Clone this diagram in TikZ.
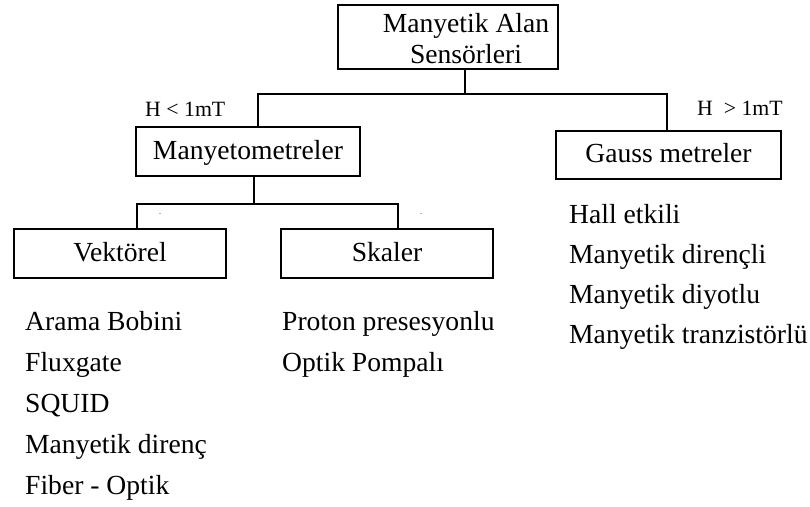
\documentclass[tikz,border=0pt]{standalone}
\usepackage{fontspec}
\setmainfont{Liberation Serif}
\begin{document}
\begin{tikzpicture}[
    x=1pt,
    y=-1pt,
    every node/.style={font=\fontsize{27.6}{31}\selectfont, inner sep=0pt},
    kutu/.style={draw=black, line width=2.2pt, fill=white, text height=19pt, text depth=4pt},
    hat/.style={line width=2.2pt},
    esik/.style={font=\fontsize{21.8}{26}\selectfont, anchor=base west},
    liste/.style={anchor=base west},
    nokta/.style={font=\fontsize{8}{8}\selectfont}
]

\useasboundingbox (0,0) rectangle (810,506);

% Ana kutu:
% metin kutunun ortasından biraz sağa kaymış.
\node[kutu, minimum width=220pt, minimum height=64pt, text height=, text depth=] (sensor) at (448,37) {};
\node[align=center] (sensorYazi) at (466,39) {Manyetik Alan\\Sensörleri};

% Birinci seviye kutular
\node[kutu, minimum width=224pt, minimum height=49pt] (manyetometre) at (248,151.5) {Manyetometreler};
\node[kutu, minimum width=225pt, minimum height=48pt] (gauss) at (668.5,155) {Gauss metreler};

% Eşik değerleri
\node[esik] (altEsik) at (145,116) {H < 1mT};
\node[esik] (ustEsik) at (697,115) {H\ \ > 1mT};

% İkinci seviye kutular
\node[kutu, minimum width=212pt, minimum height=49pt] (vektorel) at (120,253.5) {Vektörel};
\node[kutu, minimum width=212pt, minimum height=49pt] (skaler) at (387,253.5) {Skaler};

% Küçük noktalar
\node[nokta] (nokta1) at (160,214) {.};
\node[nokta] (nokta2) at (421,214) {.};

% Bağlantılar:
% dikey hatlar kutu ortalarına denk gelmiyor.
\coordinate (ustKol) at (465,94);
\coordinate (solKol) at (258,94);
\coordinate (sagKol) at (667,94);
\draw[hat] (sensor.south -| ustKol) -- (ustKol);
\draw[hat] (manyetometre.north -| solKol) -- (solKol) -- (sagKol) -- (gauss.north -| sagKol);

\coordinate (altKol) at (254,204);
\coordinate (vekKol) at (137,204);
\coordinate (skaKol) at (398,204);
\draw[hat] (manyetometre.south -| altKol) -- (altKol);
\draw[hat] (vektorel.north -| vekKol) -- (vekKol) -- (skaKol) -- (skaler.north -| skaKol);

% Sensör listeleri
\foreach \yazi [count=\i] in {Arama Bobini, Fluxgate, SQUID, Manyetik direnç, Fiber - Optik}
    \node[liste] (vek\i) at (25,{330+41*(\i-1)}) {\yazi};

\foreach \yazi [count=\i] in {Proton presesyonlu, Optik Pompalı}
    \node[liste] (ska\i) at (282,{330+41*(\i-1)}) {\yazi};

\foreach \yazi [count=\i] in {Hall etkili, Manyetik dirençli, Manyetik diyotlu, Manyetik tranzistörlü}
    \node[liste] (gau\i) at (569,{223+40*(\i-1)}) {\yazi};

\end{tikzpicture}
\end{document}
